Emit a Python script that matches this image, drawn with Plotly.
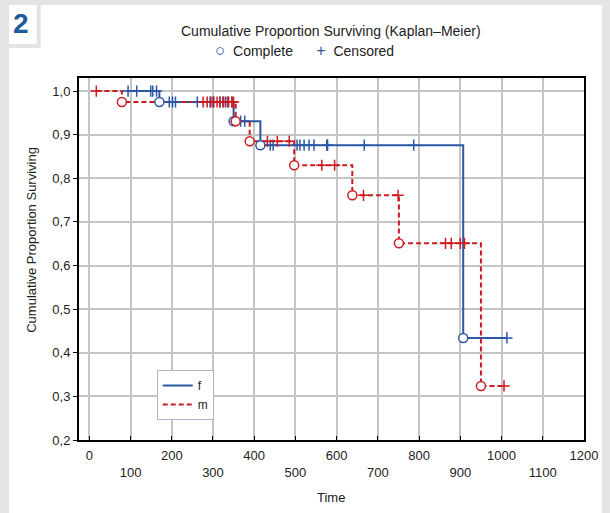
import plotly.graph_objects as go

# Kaplan-Meier steps (time, cumulative proportion surviving)
f_time = [91, 170, 350, 415, 907, 1013]
f_surv = [1.0, 0.975, 0.931, 0.876, 0.434, 0.434]
m_time = [17, 79, 355, 389, 497, 638, 751, 950, 1006]
m_surv = [1.0, 0.975, 0.931, 0.885, 0.830, 0.761, 0.651, 0.324, 0.324]

# complete (event) points
f_event_t = [170, 350, 415, 907]
f_event_s = [0.975, 0.931, 0.876, 0.434]
m_event_t = [79, 355, 389, 497, 638, 751, 950]
m_event_s = [0.975, 0.931, 0.885, 0.830, 0.761, 0.651, 0.324]

# censored points
f_cens_t = [94, 115, 149, 154, 163,
            194, 202, 209, 262, 293, 300, 317, 326, 336, 346,
            367, 377,
            439, 446, 504, 511, 521, 533, 545, 576, 578, 667, 787,
            1013]
f_cens_s = [1.0] * 5 + [0.975] * 10 + [0.931] * 2 + [0.876] * 11 + [0.434]
m_cens_t = [17,
            276, 286, 295, 302, 310, 317, 324, 331, 338, 346, 350,
            432, 456, 485,
            564, 595,
            665, 749,
            864, 878, 900, 910,
            1006]
m_cens_s = ([1.0] + [0.975] * 11 + [0.885] * 3 + [0.830] * 2 + [0.761] * 2
            + [0.651] * 4 + [0.324])

x_ticks = list(range(0, 1201, 100))
x_labels = [str(v) if (v // 100) % 2 == 0 else "<br>" + str(v) for v in x_ticks]
y_ticks = [0.2, 0.3, 0.4, 0.5, 0.6, 0.7, 0.8, 0.9, 1.0]
y_labels = ["0,2", "0,3", "0,4", "0,5", "0,6", "0,7", "0,8", "0,9", "1,0"]

BLUE = "#2a58a6"
RED = "#cc1a1f"
FONT = "Liberation Sans Narrow, Liberation Sans, Arial, sans-serif"

fig = go.Figure()
fig.add_trace(go.Scatter(x=f_time, y=f_surv, mode="lines", line_shape="hv",
                         line=dict(color=BLUE, width=2), name="f"))
fig.add_trace(go.Scatter(x=m_time, y=m_surv, mode="lines", line_shape="hv",
                         line=dict(color=RED, width=2, dash="5px,3px"), name="m"))
for t, s, c in [(f_cens_t, f_cens_s, BLUE), (m_cens_t, m_cens_s, RED)]:
    fig.add_trace(go.Scatter(x=t, y=s, mode="markers", showlegend=False,
                             marker=dict(symbol="cross-thin", size=8,
                                         line=dict(color=c, width=1.5))))
for t, s, c in [(f_event_t, f_event_s, BLUE), (m_event_t, m_event_s, RED)]:
    fig.add_trace(go.Scatter(x=t, y=s, mode="markers", showlegend=False,
                             marker=dict(symbol="circle", size=9, color="white",
                                         line=dict(color=c, width=1.5))))

def px_x(p):
    return (p - 79) / 513

def px_y(p):
    return (440 - p) / 362

shapes = [
    dict(type="rect", xref="paper", yref="paper", layer="below",
         x0=px_x(8), x1=px_x(610), y0=px_y(513), y1=px_y(5),
         fillcolor="white", line_width=0),
    dict(type="rect", xref="paper", yref="paper", layer="below",
         x0=px_x(36), x1=px_x(40), y0=px_y(48), y1=px_y(5),
         fillcolor="#e4e4e4", line_width=0),
    dict(type="rect", xref="paper", yref="paper", layer="below",
         x0=px_x(8), x1=px_x(40), y0=px_y(48), y1=px_y(44),
         fillcolor="#e4e4e4", line_width=0),
]

def note(text, x, y, size=13, **kw):
    return dict(text=text, x=px_x(x), y=px_y(y), xref="paper", yref="paper",
                xanchor="center", yanchor="middle", showarrow=False,
                font=dict(size=size, color="#222"), **kw)

annotations = [
    dict(text="<b>2</b>", x=px_x(20), y=px_y(23), xref="paper", yref="paper",
         xanchor="center", yanchor="middle", showarrow=False,
         font=dict(size=28, color="#1d5c9c", family="Liberation Sans, Arial")),
    note("Cumulative Proportion Surviving (Kaplan–Meier)", 335, 31, 14),
    note("<span style='color:%s;font-size:17px'>○</span>  Complete      "
         "<span style='color:%s;font-size:16px'>+</span>  Censored" % (BLUE, BLUE),
         308, 51, 14),
    note("Cumulative Proportion Surviving", 30, 240, 13, textangle=-90),
    note("Time", 335, 497, 13),
]

fig.update_layout(
    width=610, height=513,
    margin=dict(l=79, r=18, t=78, b=73),
    paper_bgcolor="#e4e4e4", plot_bgcolor="white",
    font=dict(family=FONT, size=13, color="#222"),
    shapes=shapes, annotations=annotations,
    legend=dict(x=px_x(158), y=px_y(370), xanchor="left", yanchor="top",
                bgcolor="white", bordercolor="#aab6cc", borderwidth=1,
                font=dict(size=12), itemwidth=30, tracegroupgap=0,
                entrywidth=40),
    xaxis=dict(range=[-25, 1200], tickvals=x_ticks, ticktext=x_labels,
               showgrid=True, gridcolor="#c4c4c4", gridwidth=1.5,
               showline=True, linecolor="black", linewidth=2, mirror=True,
               ticks="inside", ticklen=4, tickcolor="black",
               ticklabelstandoff=2, zeroline=False),
    yaxis=dict(range=[0.2, 1.03], tickvals=y_ticks, ticktext=y_labels,
               showgrid=True, gridcolor="#c4c4c4", gridwidth=1.5,
               showline=True, linecolor="black", linewidth=2, mirror=True,
               ticks="outside", ticklen=4, tickcolor="black",
               zeroline=False),
)

# drop the default 8px body margin so the figure fills the window exactly
fig.write_html("out.html", config={"displayModeBar": False},
               post_script="document.body.style.margin='0';document.body.style.overflow='hidden';")
